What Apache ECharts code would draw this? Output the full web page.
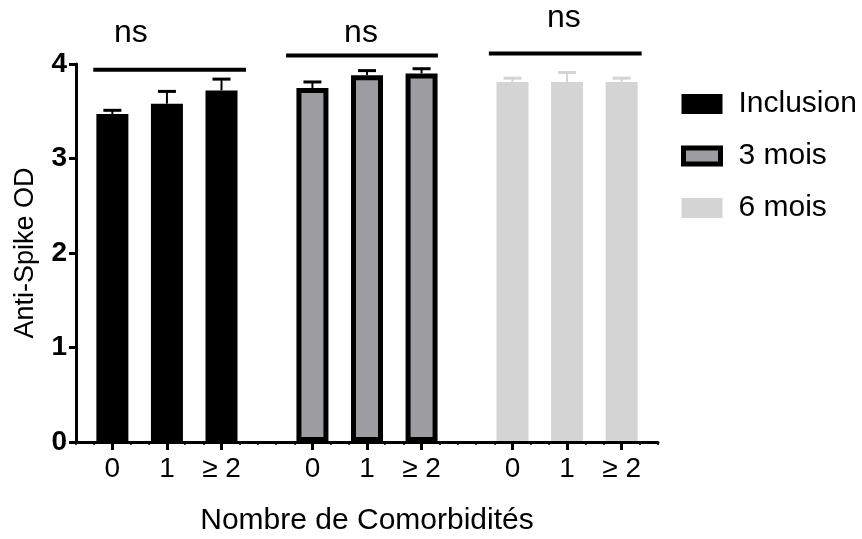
<!DOCTYPE html>
<html><head><meta charset="utf-8">
<script src="https://cdn.jsdelivr.net/npm/echarts@6/dist/echarts.min.js"></script>
<style>html,body{margin:0;padding:0;background:#fff}#c{width:862px;height:539px}</style>
</head><body><div id="c"></div>
<script>
// ---- data ----
const groups = ['Inclusion', '3 mois', '6 mois'];
const comorbidityLabels = ['0', '1', '≥ 2'];
const inclusionMean = [3.47, 3.58, 3.72];
const inclusionUpper = [3.51, 3.71, 3.84];
const mois3Mean = [3.745, 3.88, 3.90];
const mois3Upper = [3.81, 3.93, 3.95];
const mois6Mean = [3.81, 3.81, 3.81];
const mois6Upper = [3.85, 3.91, 3.85];
const yTicks = [0, 1, 2, 3, 4];
const sigText = ['ns', 'ns', 'ns'];
const sigLevel = [3.94, 4.09, 4.11];
const axisTitleX = 'Nombre de Comorbidités';
const axisTitleY = 'Anti-Spike OD';

// ---- layout ----
const SLOTS = 33;
const groupStart = [2, 13, 24];
const slotStep = 3;
const means = [inclusionMean, mois3Mean, mois6Mean];
const uppers = [inclusionUpper, mois3Upper, mois6Upper];
const fills = ['#000000', '#9d9da1', '#d4d4d4'];
const borders = ['#000000', '#000000', '#d4d4d4'];
const borderW = [4, 5, 4];
const errColors = ['#000000', '#000000', '#d4d4d4'];
const sigSpan = [[-1.05, 1.35], [-1.45, 0.9], [-1.3, 1.1]];
const nsPos = [[-1.98, 4.33], [-0.33, 4.33], [-0.17, 4.49]];
const FONT = '"Liberation Sans", Arial, Helvetica, sans-serif';

const slotLabel = {};
groupStart.forEach(s => comorbidityLabels.forEach((l, j) => { slotLabel[s + j * slotStep] = l; }));
const cats = Array.from({length: SLOTS}, (_, i) => 's' + i);
const isBarSlot = (i) => slotLabel[i] !== undefined;

const barSeries = groups.map((name, g) => ({
  type: 'bar', name: name, xAxisIndex: 0, yAxisIndex: 0,
  barWidth: 32, barGap: '-100%', z: 2,
  data: means[g].map((v, j) => [groupStart[g] + j * slotStep, v]),
  itemStyle: {color: fills[g], borderColor: borders[g], borderWidth: borderW[g]},
  emphasis: {disabled: true}, silent: true
}));

const errData = [];
groups.forEach((name, g) => means[g].forEach((v, j) => errData.push([groupStart[g] + j * slotStep, v, uppers[g][j], g])));

const errSeries = {
  type: 'custom', name: 'err', z: 3, silent: true, clip: false,
  data: errData,
  renderItem: function (params, api) {
    const x = api.value(0), lo = api.value(1), hi = api.value(2), g = api.value(3);
    const p1 = api.coord([x, lo]), p2 = api.coord([x, hi]);
    const c = errColors[g];
    return {type: 'group', children: [
      {type: 'line', shape: {x1: p1[0], y1: p1[1], x2: p2[0], y2: p2[1]}, style: {stroke: c, lineWidth: 2}},
      {type: 'line', shape: {x1: p2[0] - 9, y1: p2[1], x2: p2[0] + 9, y2: p2[1]}, style: {stroke: c, lineWidth: 3}}
    ]};
  }
};

const sigSeries = {
  type: 'custom', name: 'sig', z: 3, silent: true, clip: false,
  data: groups.map((n, g) => [groupStart[g], sigLevel[g], g]),
  renderItem: function (params, api) {
    const s = api.value(0), y = api.value(1), g = api.value(2);
    const a = api.coord([s, y]), b = api.coord([s + 1, y]);
    const unit = b[0] - a[0];
    const mid = s + slotStep;
    const m = api.coord([mid, nsPos[g][1]]);
    const x1 = a[0] + sigSpan[g][0] * unit;
    const x2 = a[0] + (2 * slotStep + sigSpan[g][1]) * unit;
    return {type: 'group', children: [
      {type: 'line', shape: {x1: x1, y1: a[1], x2: x2, y2: a[1]}, style: {stroke: '#000', lineWidth: 4}},
      {type: 'text', style: {text: sigText[g], x: m[0] + nsPos[g][0] * unit, y: m[1], align: 'center', verticalAlign: 'middle',
        fill: '#000', fontSize: 32, fontFamily: FONT}}
    ]};
  }
};

const legendData = groups.map((name, g) => ({
  name: name,
  itemStyle: {color: fills[g], borderColor: borders[g], borderWidth: borderW[g]}
}));

const chart = echarts.init(document.getElementById('c'), null, {renderer: 'canvas'});
chart.setOption({
  animation: false,
  backgroundColor: '#ffffff',
  grid: {left: 76, right: 204, top: 64, bottom: 97, containLabel: false, outerBoundsMode: 'none'},
  legend: {
    orient: 'vertical', left: 676, top: 84, itemWidth: 37, itemHeight: 16, itemGap: 22,
    icon: 'rect', selectedMode: false,
    data: legendData,
    textStyle: {fontSize: 30, fontFamily: FONT, color: '#000', padding: [0, 0, 0, 13]}
  },
  xAxis: [{
    type: 'category', data: cats, boundaryGap: false, position: 'bottom', z: 5,
    axisLine: {lineStyle: {color: '#000', width: 3}},
    axisTick: {show: true, interval: 0, length: 3, lineStyle: {color: '#000', width: 1.5}},
    axisLabel: {show: false}, splitLine: {show: false},
    name: axisTitleX, nameLocation: 'middle', nameGap: 64,
    nameTextStyle: {fontSize: 30, fontFamily: FONT, color: '#000'}
  }, {
    type: 'category', data: cats, boundaryGap: false, position: 'bottom', z: 5,
    axisLine: {show: false},
    axisTick: {show: true, interval: (i) => isBarSlot(i), length: 8, lineStyle: {color: '#000', width: 3}},
    axisLabel: {show: true, interval: (i) => isBarSlot(i), formatter: (v, i) => slotLabel[i] || '', margin: 13,
      fontSize: 28, fontFamily: FONT, color: '#000'},
    splitLine: {show: false}
  }],
  yAxis: {
    type: 'value', min: yTicks[0], max: yTicks[yTicks.length - 1], interval: 1, z: 5,
    axisLine: {show: true, lineStyle: {color: '#000', width: 3}},
    axisTick: {show: true, length: 7, lineStyle: {color: '#000', width: 3}},
    axisLabel: {margin: 9, fontSize: 28, fontWeight: 'bold', fontFamily: FONT, color: '#000'},
    splitLine: {show: false},
    name: axisTitleY, nameLocation: 'middle', nameGap: 37, nameRotate: 90,
    nameTextStyle: {fontSize: 27, fontFamily: FONT, color: '#000'}
  },
  series: [...barSeries, errSeries, sigSeries]
});
</script></body></html>
